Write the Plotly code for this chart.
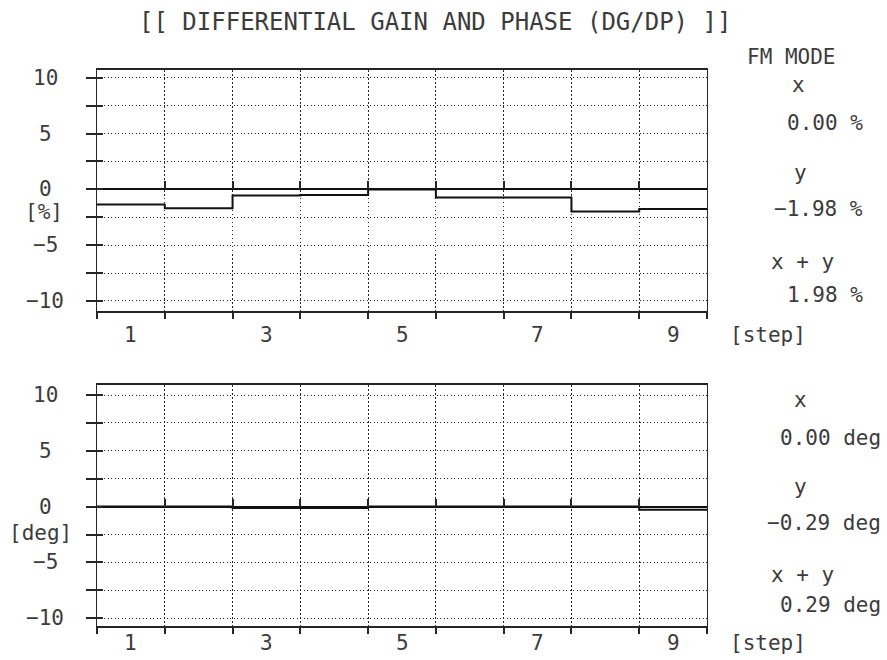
import numpy as np
import plotly.graph_objects as go

W, H = 887, 660

# measured DG (%) and DP (deg) per luminance step
steps = [1, 2, 3, 4, 5, 6, 7, 8, 9]
dg_values = [-1.35, -1.70, -0.55, -0.50, 0.00, -0.72, -0.72, -1.98, -1.75]
dp_values = [0.00, 0.00, -0.12, -0.12, 0.00, 0.00, 0.00, 0.00, -0.29]
step_tick_labels = ["1", "3", "5", "7", "9"]
y_tick_values = [10, 5, 0, -5, -10]
y_tick_labels = ["10", "5", "0", "−5", "−10"]
title_text = "[[ DIFFERENTIAL GAIN AND PHASE (DG/DP) ]]"
mode_text = "FM MODE"
unit_labels = ["[%]", "[deg]"]
unit_suffixes = [" %", " deg"]

INK = "#262626"
TEXT_INK = "#3c3c3c"
FONT = "DejaVu Sans Mono"
FS = 21


def px(x):
    return x / W


def py(y):
    return 1 - y / H


def fmt(v):
    return f"{v:.2f}".replace("-", "−")


x_dom = [px(97), px(707)]
x_range = [0.5, 9.5]
grid_levels = np.arange(-10, 10.01, 2.5)

panels = [
    dict(vals=dg_values, ydom=[py(311), py(70)], yrange=[-10.9, 10.7],
         names=("x", "y", "x3", "y3", "x5"), label_y=335,
         stat_rows=[(798, 85), (865, 123), (800, 173), (865, 209), (802, 262), (865, 295)],
         step_pos=(768, 335), unit_pos=(44, 212)),
    dict(vals=dp_values, ydom=[py(626), py(385)], yrange=[-10.7, 10.9],
         names=("x2", "y2", "x4", "y4", "x6"), label_y=643,
         stat_rows=[(800, 400), (883, 438), (800, 487), (883, 523), (802, 575), (883, 605)],
         step_pos=(768, 643), unit_pos=(40, 533)),
]

fig = go.Figure()
layout_axes = {}
annotations = []


def axkey(name):
    return ("xaxis" if name[0] == "x" else "yaxis") + name[1:]


tick_font = dict(family=FONT, size=FS, color=TEXT_INK)

for i, p in enumerate(panels):
    xn, yn, xg, yi, xz = p["names"]
    vals = p["vals"]

    # step trace: each step occupies [n-0.5, n+0.5]
    edges = np.array(steps + [steps[-1] + 1], dtype=float) - 0.5
    fig.add_trace(go.Scatter(
        x=edges, y=vals + [vals[-1]], mode="lines",
        line=dict(shape="hv", color="#111111", width=2),
        xaxis=xn, yaxis=yn, hoverinfo="skip", showlegend=False))

    # empty traces so the overlay axes get their own subplots drawn
    for ax_x, ax_y in ((xg, yn), (xn, yi), (xz, yn)):
        fig.add_trace(go.Scatter(
            x=[None], y=[None], mode="lines", xaxis=ax_x, yaxis=ax_y,
            hoverinfo="skip", showlegend=False))

    # main axes: frame, horizontal dotted grid, zero line, outside ticks
    layout_axes[axkey(xn)] = dict(
        domain=x_dom, range=x_range, anchor=yn,
        ticks="", showticklabels=False, showgrid=False, zeroline=False,
        showline=True, linecolor=INK, linewidth=2, mirror=True)
    layout_axes[axkey(yn)] = dict(
        domain=p["ydom"], range=p["yrange"], anchor=xn,
        tickmode="array", tickvals=grid_levels, ticks="outside", ticklen=10,
        tickwidth=1.5, tickcolor=INK, showticklabels=False,
        showgrid=True, gridcolor=INK, gridwidth=1, griddash="1px,2.5px",
        zeroline=True, zerolinecolor="#111111", zerolinewidth=2,
        showline=True, linecolor=INK, linewidth=1, mirror=True)

    # vertical dotted grid between steps plus ticks below the frame
    layout_axes[axkey(xg)] = dict(
        overlaying=xn, anchor=yn, range=x_range,
        tickmode="array", tickvals=np.arange(0.5, 9.51, 1.0),
        ticks="outside", ticklen=7, tickwidth=1.5, tickcolor=INK,
        showticklabels=False, showgrid=True, gridcolor=INK, gridwidth=1,
        griddash="1.5px,2.5px", zeroline=False, showline=False)

    # short inside ticks so the y ticks cross the left edge
    layout_axes[axkey(yi)] = dict(
        overlaying=yn, anchor=xn, range=p["yrange"],
        tickmode="array", tickvals=grid_levels, ticks="inside", ticklen=6,
        tickwidth=1.5, tickcolor=INK, showticklabels=False,
        showgrid=False, zeroline=False, showline=False)

    # small upward ticks on the zero line
    y0, y1 = p["yrange"]
    d0, d1 = p["ydom"]
    zero_pos = d0 + (0 - y0) / (y1 - y0) * (d1 - d0)
    layout_axes[axkey(xz)] = dict(
        overlaying=xn, anchor="free", position=zero_pos, side="top",
        range=x_range, tickmode="array", tickvals=np.arange(1.5, 8.51, 1.0),
        ticks="outside", ticklen=8, tickwidth=1.5, tickcolor=INK,
        showticklabels=False, showgrid=False, zeroline=False, showline=False)

    # step numbers under the frame
    for t in step_tick_labels:
        annotations.append(dict(
            x=int(t), xref=xn, y=py(p["label_y"]), yref="paper", text=t,
            showarrow=False, xanchor="center", yanchor="middle", font=tick_font))

    # y tick labels, centred in the left margin
    for v, t in zip(y_tick_values, y_tick_labels):
        annotations.append(dict(
            x=px(45), xref="paper", y=v, yref=yn, text=t, showarrow=False,
            xanchor="center", yanchor="middle", font=tick_font))

    ux, uy = p["unit_pos"]
    annotations.append(dict(
        x=px(ux), y=py(uy), xref="paper", yref="paper", text=unit_labels[i],
        showarrow=False, xanchor="center", yanchor="middle", font=tick_font))

    sx, sy = p["step_pos"]
    annotations.append(dict(
        x=px(sx), y=py(sy), xref="paper", yref="paper", text="[step]",
        showarrow=False, xanchor="center", yanchor="middle", font=tick_font))

    # summary: x = maximum, y = minimum, x + y = peak-to-peak
    x_stat = max(vals)
    y_stat = min(vals)
    xy_stat = abs(x_stat) + abs(y_stat)
    suffix = unit_suffixes[i]
    texts = ["x", fmt(x_stat) + suffix, "y", fmt(y_stat) + suffix,
             "x + y", fmt(xy_stat) + suffix]
    for k, (t, (tx, ty)) in enumerate(zip(texts, p["stat_rows"])):
        is_value = k % 2 == 1
        annotations.append(dict(
            x=px(tx), y=py(ty), xref="paper", yref="paper", text=t,
            showarrow=False, xanchor="right" if is_value else "center",
            yanchor="middle", font=tick_font))

annotations.append(dict(
    x=px(435), y=py(22), xref="paper", yref="paper", text=title_text,
    showarrow=False, xanchor="center", yanchor="middle",
    font=dict(family=FONT, size=24, color=TEXT_INK)))
annotations.append(dict(
    x=px(791), y=py(57), xref="paper", yref="paper", text=mode_text,
    showarrow=False, xanchor="center", yanchor="middle", font=tick_font))

fig.update_layout(
    width=W, height=H,
    margin=dict(l=0, r=0, t=0, b=0),
    paper_bgcolor="white", plot_bgcolor="white",
    showlegend=False,
    annotations=annotations,
    **layout_axes,
)

fig.write_html("out.html")
